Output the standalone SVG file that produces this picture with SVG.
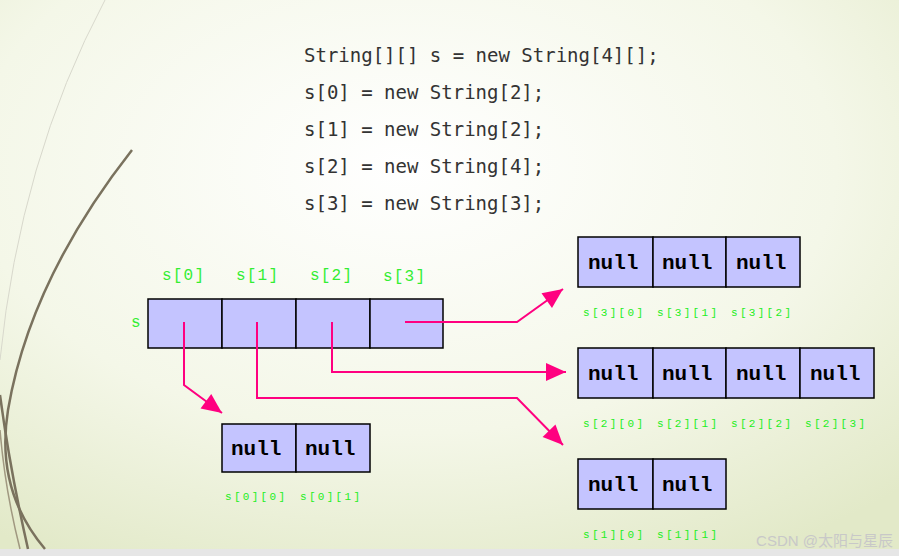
<svg xmlns="http://www.w3.org/2000/svg" width="899" height="556" viewBox="0 0 899 556">
<defs>
<radialGradient id="bg" cx="0.45" cy="0.3" r="0.8">
<stop offset="0" stop-color="#ffffff"/><stop offset="0.6" stop-color="#f4f7e8"/><stop offset="1" stop-color="#e2e9c8"/>
</radialGradient>
<marker id="ah" viewBox="0 0 10 10" refX="10" refY="5" markerWidth="10" markerHeight="10" orient="auto" markerUnits="userSpaceOnUse" style="overflow:visible">
<path d="M-10,-4 L10,5 L-10,14 Z" fill="#ff0080" transform="translate(0,0)"/>
</marker>
<style>
.c{fill:#c4c4ff;stroke:#000;stroke-width:1.5}
.n{font-family:"Liberation Mono",monospace;font-weight:bold;font-size:21px;fill:#000}
.g{font-family:"Liberation Mono",monospace;font-size:11px;fill:#22ee22;letter-spacing:2.3px}
.h{font-family:"Liberation Mono",monospace;font-size:16px;fill:#33ee33;letter-spacing:1.2px}
.code{font-family:"DejaVu Sans Mono",monospace;font-size:19px;fill:#333}
.a{fill:none;stroke:#ff0080;stroke-width:2}
</style>
</defs>
<rect width="899" height="556" fill="url(#bg)"/>
<rect y="549" width="899" height="7" fill="#e6e6e6"/>
<g fill="none">
<path d="M105,0 Q20,160 0,360" stroke="#d8d8cc" stroke-width="1"/>
<path d="M132,150 Q30,280 8,410 Q-5,490 45,549" stroke="#7a725e" stroke-width="2.5"/>
<path d="M0,395 Q10,470 28,549" stroke="#7a725e" stroke-width="2.5"/>
<path d="M0,430 Q5,490 20,549" stroke="#a09880" stroke-width="1.5"/>
</g>
<g id="code" class="code">
<text x="304" y="62">String[][] s = new String[4][];</text>
<text x="304" y="99">s[0] = new String[2];</text>
<text x="304" y="136">s[1] = new String[2];</text>
<text x="304" y="173">s[2] = new String[4];</text>
<text x="304" y="210">s[3] = new String[3];</text>
</g>
<g id="s">
<text class="h" x="131" y="327">s</text>
<rect class="c" x="148" y="299" width="74" height="49"/><rect class="c" x="222" y="299" width="74" height="49"/>
<rect class="c" x="296" y="299" width="74" height="49"/><rect class="c" x="370" y="299" width="73" height="49"/>
<text class="h" x="162" y="280">s[0]</text><text class="h" x="236" y="280">s[1]</text>
<text class="h" x="310" y="280">s[2]</text><text class="h" x="383" y="281">s[3]</text>
</g>
<g id="s0">
<rect class="c" x="222" y="424" width="74" height="48"/><rect class="c" x="296" y="424" width="74" height="48"/>
<text class="n" x="231" y="455">null</text><text class="n" x="305" y="455">null</text>
<text class="g" x="225" y="500">s[0][0]</text><text class="g" x="300" y="500">s[0][1]</text>
</g>
<g id="s3">
<rect class="c" x="578" y="237" width="75" height="50"/><rect class="c" x="653" y="237" width="73" height="50"/><rect class="c" x="726" y="237" width="74" height="50"/>
<text class="n" x="588" y="269">null</text><text class="n" x="662" y="269">null</text><text class="n" x="736" y="269">null</text>
<text class="g" x="583" y="316">s[3][0]</text><text class="g" x="657" y="316">s[3][1]</text><text class="g" x="731" y="316">s[3][2]</text>
</g>
<g id="s2">
<rect class="c" x="578" y="348" width="75" height="50"/><rect class="c" x="653" y="348" width="73" height="50"/><rect class="c" x="726" y="348" width="74" height="50"/><rect class="c" x="800" y="348" width="74" height="50"/>
<text class="n" x="588" y="380">null</text><text class="n" x="662" y="380">null</text><text class="n" x="736" y="380">null</text><text class="n" x="810" y="380">null</text>
<text class="g" x="583" y="427">s[2][0]</text><text class="g" x="657" y="427">s[2][1]</text><text class="g" x="731" y="427">s[2][2]</text><text class="g" x="805" y="427">s[2][3]</text>
</g>
<g id="s1">
<rect class="c" x="578" y="459" width="75" height="50"/><rect class="c" x="653" y="459" width="73" height="50"/>
<text class="n" x="588" y="491">null</text><text class="n" x="662" y="491">null</text>
<text class="g" x="583" y="538">s[1][0]</text><text class="g" x="657" y="538">s[1][1]</text>
</g>
<g id="connectors">
<path class="a" d="M184,322 V385 L222,413" marker-end="url(#ah)"/>
<path class="a" d="M257,322 V398 H517 L563,445" marker-end="url(#ah)"/>
<path class="a" d="M332,322 V372 H566" marker-end="url(#ah)"/>
<path class="a" d="M405,322 H517 L563,289" marker-end="url(#ah)"/>
</g>
<text x="893" y="546" text-anchor="end" font-family="Liberation Sans, 'Noto Sans CJK SC', sans-serif" font-size="15" fill="#c8c8c8">CSDN @太阳与星辰</text>
</svg>
